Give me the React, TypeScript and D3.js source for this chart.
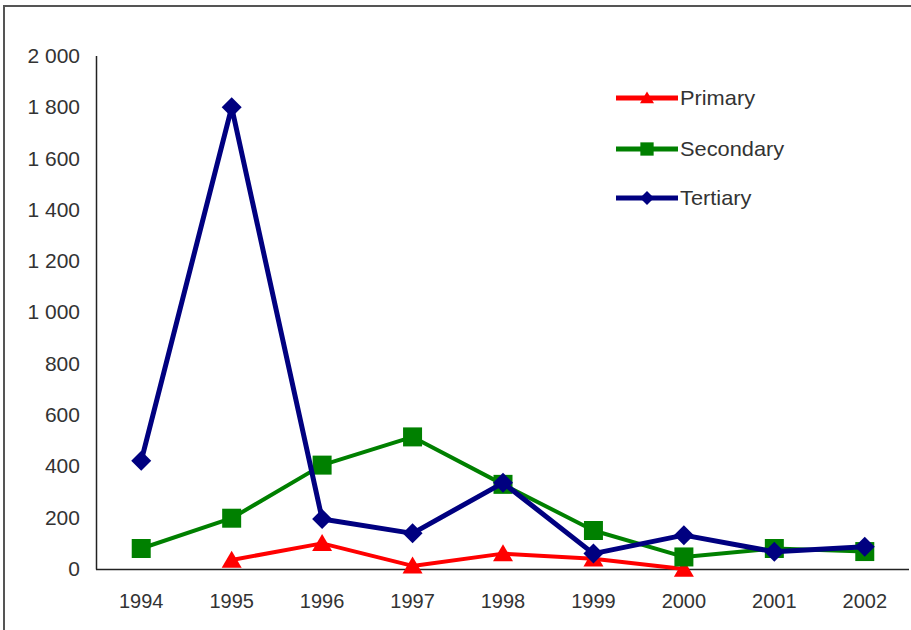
import React from "react";
import * as d3 from "d3";

const years = ["1994", "1995", "1996", "1997", "1998", "1999", "2000", "2001", "2002"];
const primary: (number | null)[] = [null, 35, 100, 12, 60, 40, 0, null, null];
const secondary: (number | null)[] = [80, 198, 405, 515, 330, 150, 47, 80, 68];
const tertiary: (number | null)[] = [422, 1800, 195, 139, 336, 60, 132, 67, 87];
const yTicks = [0, 200, 400, 600, 800, 1000, 1200, 1400, 1600, 1800, 2000];
const seriesNames = ["Primary", "Secondary", "Tertiary"];

const W = 911;
const H = 630;
const FONT = "'Liberation Sans', Arial, sans-serif";

export default function App() {
  const x = d3.scaleBand<string>().domain(years).range([96, 910]);
  const y = d3.scaleLinear().domain([0, 2000]).range([569, 56]);
  const cx = (i: number) => (x(years[i]) as number) + x.bandwidth() / 2;
  const fmt = (v: number) => d3.format(",")(v).replace(/,/g, " ");

  const series = [
    { name: seriesNames[0], data: primary, color: "#FF0000", width: 4, marker: "triangle" },
    { name: seriesNames[1], data: secondary, color: "#008000", width: 4, marker: "square" },
    { name: seriesNames[2], data: tertiary, color: "#000080", width: 5, marker: "diamond" },
  ];

  const lineGen = d3
    .line<number | null>()
    .defined((d) => d !== null)
    .x((_, i) => cx(i))
    .y((d) => y(d as number));

  const markerPath = (type: string, px: number, py: number, scale = 1) => {
    if (type === "triangle") {
      const w = 10 * scale, h = 17 * scale;
      return `M${px},${py - h * 0.55}L${px + w},${py + h * 0.45}L${px - w},${py + h * 0.45}Z`;
    }
    if (type === "square") {
      const s = 9.5 * scale;
      return `M${px - s},${py - s}H${px + s}V${py + s}H${px - s}Z`;
    }
    const r = 10 * scale;
    return `M${px},${py - r}L${px + r},${py}L${px},${py + r}L${px - r},${py}Z`;
  };

  const legendY = [98, 149, 198];

  return (
    <svg
      width={W}
      height={H}
      style={{ position: "absolute", left: 0, top: 0, background: "#fff" }}
      fontFamily={FONT}
    >
      <rect x={0} y={0} width={W} height={H} fill="#fff" />
      {/* frame */}
      <line x1={3} x2={W} y1={6} y2={6} stroke="#555" strokeWidth={2} />
      <line x1={4} x2={4} y1={6} y2={H} stroke="#555" strokeWidth={2} />

      {/* y axis labels */}
      {yTicks.map((t) => (
        <text
          key={t}
          x={80}
          y={y(t)}
          dy="0.35em"
          textAnchor="end"
          fontSize={20}
          fill="#333"
          transform={`translate(80,0) scale(1.05,1) translate(-80,0)`}
        >
          {fmt(t)}
        </text>
      ))}
      {/* x labels */}
      {years.map((yr, i) => (
        <text key={yr} x={cx(i)} y={608} textAnchor="middle" fontSize={20} fill="#333">
          {yr}
        </text>
      ))}

      {/* axes */}
      <line x1={96.5} x2={96.5} y1={56} y2={569.5} stroke="#222" strokeWidth={1.5} />
      <line x1={96} x2={909} y1={569.5} y2={569.5} stroke="#222" strokeWidth={1.5} />

      {/* series */}
      {series.map((s) => (
        <g key={s.name}>
          <path d={lineGen(s.data) || ""} fill="none" stroke={s.color} strokeWidth={s.width} strokeLinejoin="round" />
          {s.data.map((v, i) =>
            v === null ? null : (
              <path key={i} d={markerPath(s.marker, cx(i), y(v))} fill={s.color} />
            )
          )}
        </g>
      ))}

      {/* legend */}
      {series.map((s, k) => (
        <g key={"lg" + s.name}>
          <line x1={616} x2={678} y1={legendY[k]} y2={legendY[k]} stroke={s.color} strokeWidth={5} />
          <path d={markerPath(s.marker, 647, legendY[k], 0.7)} fill={s.color} />
          <text
            x={680}
            y={legendY[k]}
            dy="0.35em"
            fontSize={20}
            fill="#333"
            transform={`translate(680,0) scale(1.09,1) translate(-680,0)`}
          >
            {s.name}
          </text>
        </g>
      ))}
    </svg>
  );
}
